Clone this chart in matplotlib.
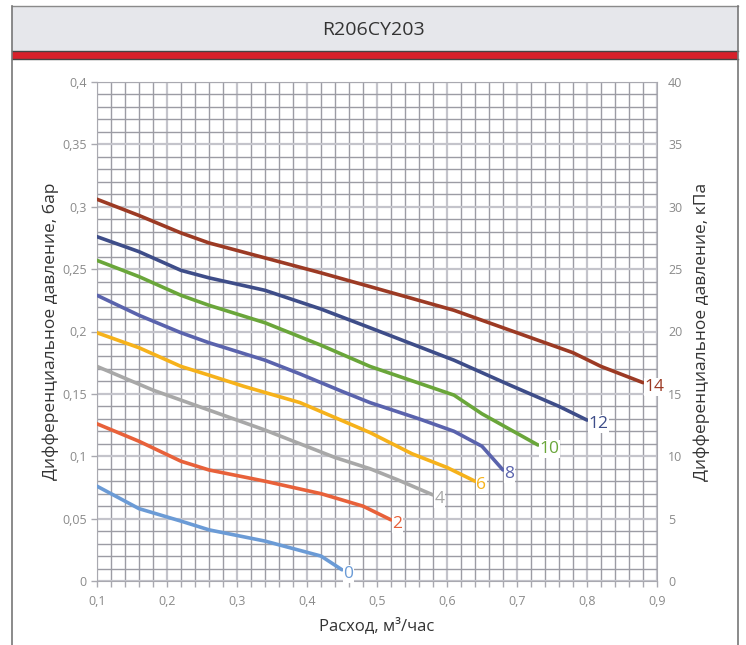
import numpy as np
import matplotlib.pyplot as plt
from matplotlib.patches import Rectangle
from matplotlib.lines import Line2D

plt.rcParams['font.family'] = ['Open Sans', 'DejaVu Sans']

# flow, m3/h and differential pressure, bar for each curve
x14 = [0.1, 0.16, 0.22, 0.26, 0.34, 0.42, 0.49, 0.61, 0.69, 0.78, 0.82, 0.88]
y14 = [0.306, 0.293, 0.279, 0.271, 0.259, 0.247, 0.236, 0.217, 0.201, 0.183, 0.172, 0.159]
x12 = [0.1, 0.16, 0.22, 0.26, 0.34, 0.42, 0.49, 0.61, 0.69, 0.76, 0.80]
y12 = [0.276, 0.264, 0.249, 0.243, 0.233, 0.218, 0.203, 0.177, 0.157, 0.140, 0.129]
x10 = [0.1, 0.16, 0.22, 0.26, 0.34, 0.42, 0.49, 0.61, 0.65, 0.73]
y10 = [0.257, 0.244, 0.229, 0.221, 0.207, 0.189, 0.172, 0.149, 0.134, 0.109]
x8 = [0.1, 0.16, 0.22, 0.26, 0.34, 0.39, 0.45, 0.49, 0.56, 0.61, 0.65, 0.68]
y8 = [0.229, 0.213, 0.199, 0.191, 0.177, 0.166, 0.152, 0.143, 0.130, 0.120, 0.108, 0.089]
x6 = [0.1, 0.16, 0.22, 0.26, 0.31, 0.39, 0.44, 0.49, 0.55, 0.60, 0.64]
y6 = [0.199, 0.187, 0.172, 0.165, 0.156, 0.143, 0.131, 0.119, 0.102, 0.091, 0.080]
x4 = [0.1, 0.18, 0.24, 0.34, 0.44, 0.49, 0.53, 0.58]
y4 = [0.172, 0.153, 0.141, 0.121, 0.099, 0.090, 0.081, 0.069]
x2 = [0.1, 0.16, 0.22, 0.26, 0.34, 0.42, 0.48, 0.52]
y2 = [0.126, 0.112, 0.096, 0.089, 0.080, 0.070, 0.060, 0.049]
x0 = [0.1, 0.16, 0.22, 0.26, 0.34, 0.42, 0.45]
y0 = [0.076, 0.058, 0.048, 0.041, 0.032, 0.020, 0.009]

labels = ['14', '12', '10', '8', '6', '4', '2', '0']
xs = [x14, x12, x10, x8, x6, x4, x2, x0]
ys = [y14, y12, y10, y8, y6, y4, y2, y0]
colors = ['#9c3a24', '#3e4d89', '#6aa63a', '#5a63ad', '#f6b21b', '#a8a8a8', '#e8613a', '#6b9bd6']

xticks = [0.1, 0.2, 0.3, 0.4, 0.5, 0.6, 0.7, 0.8, 0.9]
yticks = [0, 0.05, 0.1, 0.15, 0.2, 0.25, 0.3, 0.35, 0.4]
kpa_ticks = [0, 5, 10, 15, 20, 25, 30, 35, 40]

W, H = 746, 645
fig = plt.figure(figsize=(W / 100, H / 100), dpi=100)

def px(x0_, y0_, w, h, **kw):
    r = Rectangle((x0_ / W, 1 - (y0_ + h) / H), w / W, h / H, transform=fig.transFigure, **kw)
    fig.add_artist(r)

def hline(y, x1, x2, **kw):
    fig.add_artist(Line2D([x1 / W, x2 / W], [1 - y / H, 1 - y / H], transform=fig.transFigure, **kw))

def vline(x, y1, y2, **kw):
    fig.add_artist(Line2D([x / W, x / W], [1 - y1 / H, 1 - y2 / H], transform=fig.transFigure, **kw))

# header panel and red band
px(12, 6, 726, 45, facecolor='#e6e7eb', edgecolor='none')
px(12, 51, 726, 8, facecolor='#d7202a', edgecolor='none')
hline(6, 12, 738, color='#8a8a8a', lw=1)
hline(51, 12, 738, color='#444444', lw=1)
hline(59, 12, 738, color='#444444', lw=1)
vline(12, 6, 645, color='#777777', lw=1.2)
vline(738, 6, 645, color='#777777', lw=1.2)
fig.text(373 / W, 1 - 30 / H, 'R206CY203', ha='center', va='center', fontsize=14, color='#333333')

ax = fig.add_axes([97 / W, 64 / H, 560 / W, 499 / H])
ax.set_xlim(0.1, 0.9)
ax.set_ylim(0, 0.4)
ax.set_xticks(np.arange(0.1, 0.9001, 0.02), minor=True)
ax.set_yticks(np.arange(0, 0.4001, 0.01), minor=True)
ax.set_xticks(xticks)
ax.set_yticks(yticks)
ax.set_xticklabels([f'{v:g}'.replace('.', ',') for v in xticks])
ax.set_yticklabels([f'{v:g}'.replace('.', ',') for v in yticks])
ax.grid(True, which='minor', color='#9c9ca4', lw=1)
ax.grid(True, which='major', color='#c4c4cb', lw=1.6)
ax.set_axisbelow(True)
for s in ax.spines.values():
    s.set_color('#a9a9b0')
ax.tick_params(which='both', colors='#a9a9b0', labelcolor='#8a8a8a', labelsize=9, length=4, width=1)
ax.tick_params(axis='y', which='minor', length=0)
ax.tick_params(axis='x', pad=6)

for lab, xx, yy, c in zip(labels, xs, ys, colors):
    ax.plot(xx, yy, color=c, lw=2.6, solid_capstyle='round', solid_joinstyle='round', zorder=3)
    ax.annotate(lab, (xx[-1], yy[-1]), xytext=(1, -3), textcoords='offset points',
                ha='left', va='center', fontsize=12.5, color=c, zorder=4,
                bbox=dict(boxstyle='square,pad=0.05', fc='white', ec='none'))

ax.set_xlabel('Расход, м\u00b3/час', fontsize=12, color='#333333', labelpad=7)
ax.set_ylabel('Дифференциальное давление, бар', fontsize=12.5, color='#333333', labelpad=2)

ax2 = ax.twinx()
ax2.set_ylim(0, 40)
ax2.set_yticks(kpa_ticks)
ax2.tick_params(colors='#a9a9b0', labelcolor='#8a8a8a', labelsize=9, length=0, pad=8)
for s in ax2.spines.values():
    s.set_visible(False)
ax2.set_ylabel('Дифференциальное давление, кПа', fontsize=12.5, color='#333333', labelpad=8)

fig.savefig('out.png', dpi=100)
